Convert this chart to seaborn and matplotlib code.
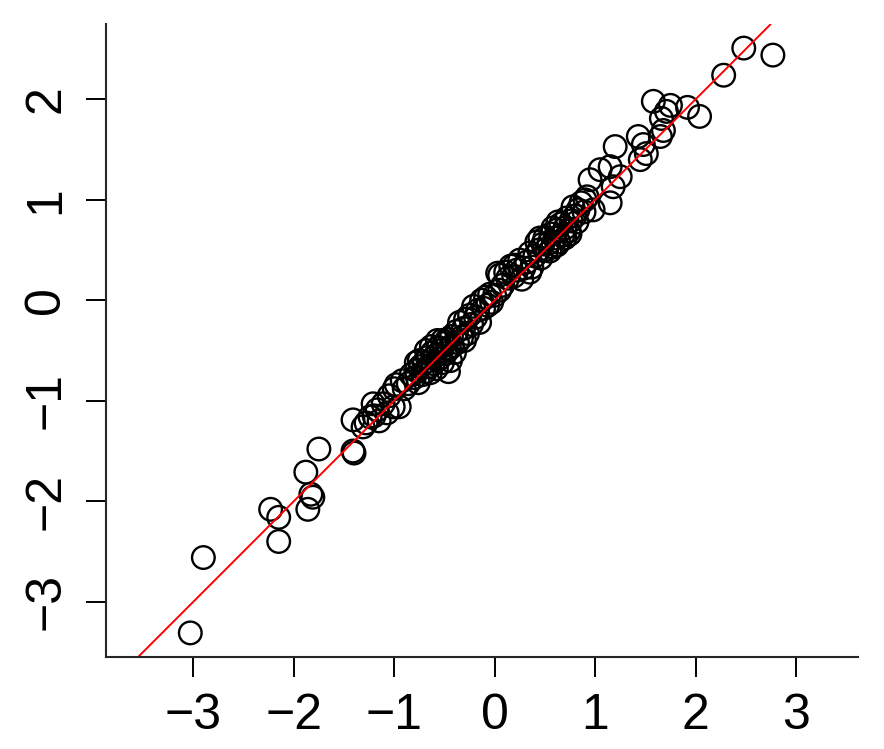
import matplotlib
matplotlib.use("Agg")
import matplotlib.pyplot as plt
import seaborn as sns
import pandas as pd

# --- values ---
x_tail_low = [-3.03, -2.90, -2.15, -2.23, -2.15, -1.88, -1.83, -1.81, -1.86, -1.75,
              -1.41, -1.40, -1.41, -1.31, -1.24, -1.17, -1.07, -1.21, -1.11, -1.01,
              -1.28, -1.20, -1.15, -1.00]
y_tail_low = [-3.31, -2.56, -2.40, -2.08, -2.16, -1.71, -1.93, -1.96, -2.08, -1.48,
              -1.50, -1.52, -1.19, -1.26, -1.16, -1.09, -1.12, -1.03, -1.03, -1.06,
              -1.22, -1.15, -1.20, -0.88]

x_middle = [-0.98, -0.92, -0.95, -0.90, -0.86, -0.83, -0.80, -0.78, -0.76, -0.74,
            -0.72, -0.70, -0.69, -0.67, -0.66, -0.64, -0.62, -0.61, -0.59, -0.58,
            -0.56, -0.55, -0.53, -0.52, -0.50, -0.49, -0.47, -0.46, -0.45, -0.43,
            -0.42, -0.40, -0.38, -0.37, -0.35, -0.33, -0.31, -0.29, -0.27, -0.25,
            -0.23, -0.21, -0.19, -0.17, -0.15, -0.13, -0.11, -0.09, -0.07, -0.05,
            -0.03, 0.00, 0.03, 0.05, 0.08, 0.11, 0.13, 0.16, 0.19, 0.22,
            0.25, 0.27, 0.29, 0.32, 0.35, 0.37, 0.40, 0.42, 0.44, 0.46,
            0.48, 0.50, 0.52, 0.54, 0.56, 0.58, 0.60, 0.62, 0.64, 0.66,
            0.68, 0.70, 0.72, 0.74, 0.76, 0.78, 0.80, 0.83, 0.86, 0.89,
            -1.05, -0.63, -0.57, -0.75, 0.62, 0.70, 0.55, -0.44,
            -0.68, -0.52, -0.78, -0.30, 0.05, 0.20, 0.35, 0.45,
            0.58, 0.63, 0.75, 0.82, 0.90]
y_middle = [-0.84, -0.80, -1.06, -0.88, -0.83, -0.74, -0.77, -0.70, -0.82, -0.66,
            -0.74, -0.62, -0.71, -0.57, -0.66, -0.72, -0.52, -0.63, -0.55, -0.68,
            -0.47, -0.58, -0.50, -0.62, -0.43, -0.53, -0.39, -0.71, -0.48, -0.36,
            -0.45, -0.52, -0.31, -0.42, -0.22, -0.37, -0.28, -0.19, -0.33, -0.15,
            -0.24, -0.06, -0.17, -0.10, -0.22, 0.00, -0.08, 0.03, -0.05, 0.06,
            -0.02, 0.05, 0.27, 0.10, 0.15, 0.28, 0.22, 0.34, 0.24, 0.30,
            0.40, 0.21, 0.32, 0.38, 0.47, 0.33, 0.44, 0.58, 0.50, 0.42,
            0.56, 0.62, 0.51, 0.57, 0.66, 0.53, 0.62, 0.70, 0.58, 0.76,
            0.65, 0.72, 0.82, 0.69, 0.79, 0.93, 0.84, 0.90, 0.97, 0.88,
            -0.95, -0.46, -0.40, -0.60, 0.55, 0.62, 0.49, -0.60,
            -0.50, -0.40, -0.62, -0.40, 0.25, 0.35, 0.28, 0.62,
            0.72, 0.78, 0.66, 0.78, 1.00]

x_tail_high = [2.48, 2.77, 2.28, 1.58, 1.75, 1.92, 2.04, 1.71, 1.66, 1.68,
               1.65, 1.43, 1.48, 1.51, 1.45, 1.20, 1.05, 1.15, 1.25, 1.18,
               1.15, 0.95, 0.92, 0.98]
y_tail_high = [2.51, 2.44, 2.24, 1.98, 1.94, 1.92, 1.83, 1.88, 1.81, 1.69,
               1.63, 1.63, 1.55, 1.46, 1.40, 1.53, 1.30, 1.33, 1.23, 1.13,
               0.97, 1.20, 1.03, 0.90]

x_ticks = [-3, -2, -1, 0, 1, 2, 3]
y_ticks = [-3, -2, -1, 0, 1, 2]
line_intercept = 0.0
line_slope = 1.0

df = pd.DataFrame({
    "x": x_tail_low + x_middle + x_tail_high,
    "y": y_tail_low + y_middle + y_tail_high,
})

sns.set_style("ticks")
plt.rcParams["font.family"] = ["Liberation Sans", "DejaVu Sans"]

fig = plt.figure(figsize=(8.84, 7.49), dpi=100)
ax = fig.add_axes([0.1196, 0.1232, 0.8514, 0.8444])

sns.scatterplot(data=df, x="x", y="y", ax=ax, s=265, marker="o",
                facecolor="none", edgecolor="black", linewidth=1.7)
ax.axline((0, line_intercept), slope=line_slope, color="red", lw=1.4)

ax.set_xlim(-3.872, 3.621)
ax.set_ylim(-3.547, 2.747)
ax.set_xticks(x_ticks)
ax.set_yticks(y_ticks)
ax.set_xlabel("")
ax.set_ylabel("")

sns.despine(ax=ax)
for side in ["left", "bottom"]:
    ax.spines[side].set_linewidth(1.5)
ax.tick_params(axis="both", direction="out", length=14.4, width=1.4,
               labelsize=36, pad=12, colors="black")
ax.tick_params(axis="y", labelrotation=90)
for lbl in ax.get_yticklabels():
    lbl.set_va("center")

fig.savefig("out.png", dpi=100)
